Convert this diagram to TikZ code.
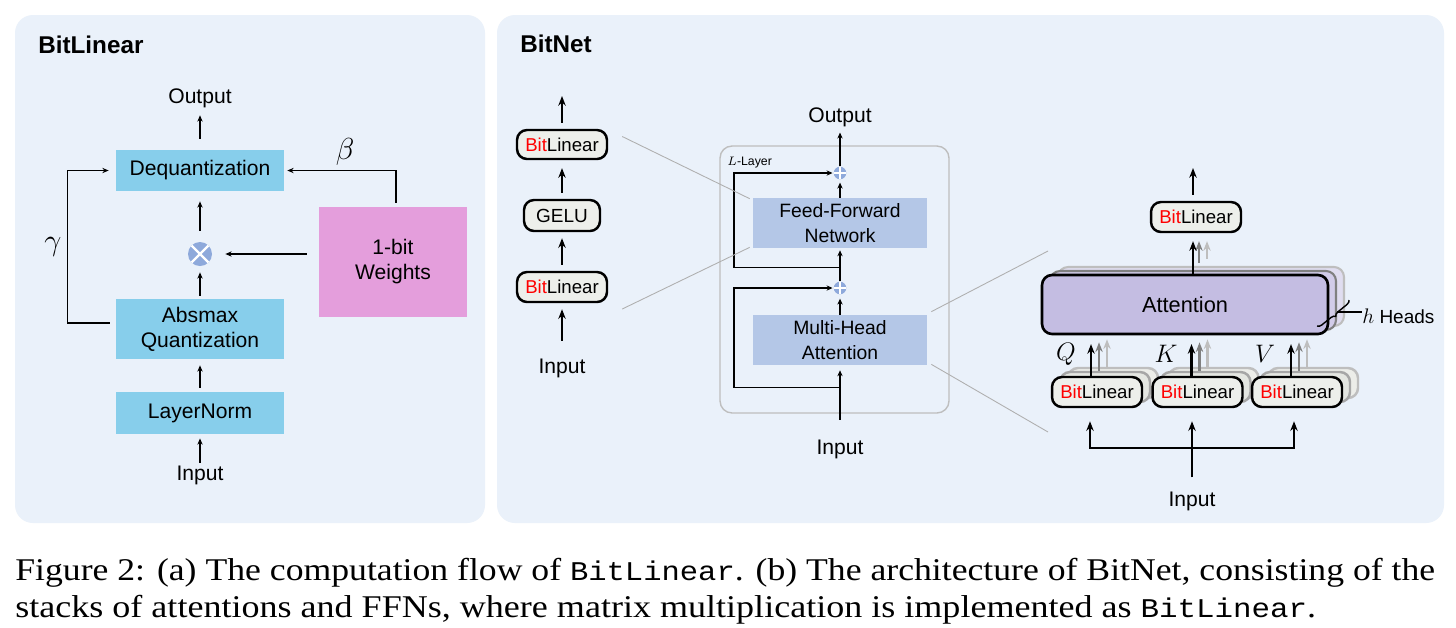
\documentclass[tikz,border=0pt]{standalone}
\usepackage{fontspec}
\setmainfont{Liberation Serif}
\setsansfont{Liberation Sans}
\setmonofont{Liberation Mono}
\usepackage{graphicx}
\usepackage{tikz}
\usetikzlibrary{arrows.meta, calc, shapes, decorations.pathreplacing}

\definecolor{panelbg}{RGB}{234,241,250}
\definecolor{qblue}{RGB}{135,206,235}
\definecolor{wpink}{RGB}{228,158,220}
\definecolor{opblue}{RGB}{142,169,219}
\definecolor{ffblue}{RGB}{180,199,231}
\definecolor{attfill}{RGB}{196,189,226}
\definecolor{attfillA}{RGB}{210,204,233}
\definecolor{attfillB}{RGB}{224,221,240}
\definecolor{bitfill}{RGB}{237,239,235}
\definecolor{bitfillA}{RGB}{228,230,225}
\definecolor{bitfillB}{RGB}{236,237,233}
\definecolor{bitred}{RGB}{255,0,0}
\definecolor{zoomgray}{RGB}{175,175,175}
\definecolor{layergray}{RGB}{190,190,190}
\definecolor{graydark}{RGB}{128,128,128}
\definecolor{graylight}{RGB}{190,190,190}

\newcommand{\bitlin}{\textcolor{bitred}{Bit}Linear}
\newcommand{\capcode}[1]{{\ttfamily\fontsize{15.4}{21}\selectfont #1}}

\tikzstyle{panel} = [fill=panelbg, rounded corners=0.36cm]
\tikzstyle{paneltitle} = [anchor=base west, inner sep=0pt, font=\sffamily\bfseries\fontsize{13.8}{16}\selectfont]
\tikzstyle{lbl} = [inner sep=1pt, font=\sffamily\fontsize{12}{14}\selectfont]
\tikzstyle{mathlbl} = [inner sep=0pt, font=\fontsize{16}{18}\selectfont]
\tikzstyle{caption} = [anchor=base west, inner sep=0pt, font=\rmfamily\fontsize{18}{21}\selectfont]
\tikzstyle{qblock} = [rectangle, fill=qblue, minimum width=3.36cm, align=center, inner sep=0pt, font=\sffamily\fontsize{12}{14.2}\selectfont]
\tikzstyle{wblock} = [rectangle, fill=wpink, minimum width=2.96cm, minimum height=2.2cm, align=center, inner sep=0pt, font=\sffamily\fontsize{12}{14.2}\selectfont]
\tikzstyle{opcircle} = [circle, fill=opblue, inner sep=0pt]
\tikzstyle{mulop} = [opcircle, minimum size=0.48cm, path picture={\draw[white, line width=1.3pt] (path picture bounding box.north west) -- (path picture bounding box.south east) (path picture bounding box.north east) -- (path picture bounding box.south west);}]
\tikzstyle{addop} = [opcircle, minimum size=0.25cm, path picture={\draw[white, line width=0.9pt] (path picture bounding box.north) -- (path picture bounding box.south) (path picture bounding box.east) -- (path picture bounding box.west);}]
\tikzstyle{bitbox} = [rectangle, rounded corners=0.2cm, draw=black, line width=1.4pt, fill=bitfill, minimum width=1.8cm, minimum height=0.6cm, inner sep=0pt, font=\sffamily\fontsize{10.6}{12}\selectfont]
\tikzstyle{bitcopyA} = [bitbox, draw=graydark!70, fill=bitfillA]
\tikzstyle{bitcopyB} = [bitbox, draw=graylight, fill=bitfillB]
\tikzstyle{ffblock} = [rectangle, fill=ffblue, minimum width=3.48cm, minimum height=1cm, align=center, inner sep=0pt, font=\sffamily\fontsize{11}{14.4}\selectfont]
\tikzstyle{layerbox} = [rectangle, rounded corners=0.24cm, draw=layergray, line width=0.8pt, minimum width=4.58cm, minimum height=5.34cm]
\tikzstyle{attblock} = [rectangle, rounded corners=0.2cm, draw=black, line width=1.5pt, fill=attfill, minimum width=5.72cm, minimum height=1.18cm, font=\sffamily\fontsize{12.4}{14}\selectfont]
\tikzstyle{attcopyA} = [attblock, line width=1.2pt, draw=graydark, fill=attfillA]
\tikzstyle{attcopyB} = [attblock, line width=1.2pt, draw=graylight, fill=attfillB]
\tikzstyle{line} = [draw, line width=0.8pt, -{Stealth[length=3.6pt,width=3pt]}]
\tikzstyle{midline} = [draw, line width=0.9pt, -{Stealth[length=3.4pt,width=3pt]}]
\tikzstyle{thickline} = [draw, line width=1.3pt, -{Stealth[length=5.5pt,width=4.2pt]}]
\tikzstyle{zoomline} = [draw=zoomgray, line width=0.5pt]
\tikzstyle{hbrace} = [draw, decorate, decoration={brace, amplitude=2.5pt}, line width=0.8pt]

\begin{document}
\begin{tikzpicture}[x=0.02cm, y=-0.02cm, font=\sffamily]
\useasboundingbox (0,0) rectangle (1456,627);
\fill[white] (0,0) rectangle (1456,627);
\fill[panel] (15,15) rectangle (485,523);
\fill[panel] (497,15) rectangle (1444,523);

% (a) BitLinear
\node (titleA) [paneltitle] at (38,53) {BitLinear};
\node (outA) [lbl, anchor=base] at (200,103) {Output};
\node (deq) [qblock, minimum height=0.82cm] at (200,170.5) {Dequantization};
\node (mul) [mulop] at (200,254) {};
\node (absq) [qblock, minimum height=1.2cm] at (200,329) {Absmax\\Quantization};
\node (lnorm) [qblock, minimum height=0.84cm] at (200,413) {LayerNorm};
\node (inA) [lbl, anchor=base] at (200,480) {Input};
\node (wts) [wblock] at (393,262) {1-bit\\Weights};
\node (lbeta) [mathlbl] at (345,152) {$\beta$};
\node (lgamma) [mathlbl] at (53,247) {$\gamma$};

% Draw edges
\path [line, shorten <=6.2pt, shorten >=3.3pt] (deq) -- (outA);
\path [line, shorten <=6.2pt, shorten >=5.7pt] (mul) -- (deq);
\path [line, shorten <=1.7pt, shorten >=3.4pt] (absq) -- (mul);
\path [line, shorten <=2.3pt, shorten >=3.4pt] (lnorm) -- (absq);
\path [line, shorten <=0.5pt, shorten >=2.3pt] (inA) -- (lnorm);
\path [line, shorten <=6.8pt, shorten >=7.4pt] (wts.west |- mul.east) -- (mul.east);
\path [line, shorten <=2.3pt, shorten >=1.7pt] ([xshift=1.7pt]wts.north) |- (deq.east);
\path [line, shorten <=3.4pt, shorten >=4pt] ([yshift=3.4pt]absq.west) -- ++(-48,0) |- (deq.west);

% (b) BitNet
\node (titleB) [paneltitle] at (520,52) {BitNet};
\coordinate (topA) at (562,96);
\node (blA) [bitbox, minimum height=0.58cm] at (562,144.5) {\bitlin};
\node (gelu) [bitbox, minimum width=1.52cm, minimum height=0.62cm, font=\sffamily\fontsize{10.8}{12}\selectfont] at (562,215.5) {GELU};
\node (blB) [bitbox] at (562,287) {\bitlin};
\node (inB) [lbl, anchor=base] at (562,373) {Input};

\path [thickline, shorten <=3.4pt] (blA) -- (topA);
\path [thickline, shorten <=3.4pt, shorten >=4.5pt] (gelu) -- (blA);
\path [thickline, shorten <=3.4pt, shorten >=3.4pt] (blB) -- (gelu);
\path [thickline, shorten <=9pt, shorten >=3.4pt] (inB) -- (blB);

\node (layer) [layerbox] at (834.5,279.5) {};
\node (llbl) [anchor=base west, inner sep=0pt, font=\sffamily\fontsize{7}{8}\selectfont] at (727,165) {$L$-Layer};
\node (outB) [lbl, anchor=base] at (840,122) {Output};
\node (plus1) [addop] at (840,173) {};
\node (ffn) [ffblock] at (840,223) {Feed-Forward\\Network};
\node (plus2) [addop] at (840,288) {};
\node (mha) [ffblock] at (840,340) {Multi-Head\\Attention};
\node (inC) [lbl, anchor=base] at (840,454) {Input};

\path [midline, shorten >=2.3pt] (plus1) -- (outB);
\path [midline, shorten >=1.7pt] (ffn) -- (plus1);
\path [midline, shorten >=1.1pt] (plus2) -- (ffn);
\path [midline, shorten >=2.3pt] (mha) -- (plus2);
\path [midline, shorten <=10pt, shorten >=2.8pt] (inC) -- (mha);
\path [midline, shorten >=0.5pt] ($(ffn.south)+(0,19)$) -- ++(-106,0) |- (plus1.west);
\path [midline, shorten >=0.5pt] ($(mha.south)+(0,22)$) -- ++(-106,0) |- (plus2.west);

\coordinate (zA) at (1048,251);
\coordinate (zB) at (1048,432);
\path [zoomline] ([shift={(14,-8)}]blA.east) -- ([shift={(-3,1)}]ffn.north west);
\path [zoomline] ([shift={(14,22)}]blB.east) -- ([shift={(-3,-1)}]ffn.south west);
\path [zoomline] ([shift={(4,-3)}]mha.north east) -- (zA);
\path [zoomline] ([shift={(4,-1)}]mha.south east) -- (zB);

% attention heads
\coordinate (topR) at (1193,168);
\node (blO) [bitbox] at (1196,217) {\bitlin};
\node (att2) [attcopyB] at (1201,296.5) {};
\node (att1) [attcopyA] at (1193,300.5) {};
\node (att) [attblock] at (1185,304.5) {Attention};
\foreach \n/\xx/\lab/\lx in {blQ/1097/Q/1066, blK/1197.5/K/1166, blV/1297/V/1265} {
  \node (\n2) [bitcopyB] at (\xx+16,383) {};
  \node (\n1) [bitcopyA] at (\xx+8,387) {};
  \node (\n) [bitbox] at (\xx,392) {\bitlin};
  \node (\n lbl) [inner sep=0pt, font=\fontsize{14}{16}\selectfont] at (\lx,354) {$\lab$};
}

\path [thickline, draw=graylight, shorten <=4pt, shorten >=4.5pt] ($(att2.north)+(6,0)$) -- ($(att2.north |- blO.south)+(6,0)$);
\path [thickline, draw=graydark, shorten <=4pt, shorten >=4.5pt] ($(att1.north)+(6,0)$) -- ($(att1.north |- blO.south)+(6,0)$);
\path [thickline, shorten >=4.5pt] (att.north -| topR) -- (blO.south -| topR);
\path [thickline, shorten <=3.4pt] (blO.north -| topR) -- (topR);
\foreach \n in {blQ, blK, blV} {
  \path [thickline, draw=graylight, shorten >=2.3pt] ($(\n2.north)+(-6,0)$) -- ($(\n2.north |- att.south)+(-6,0)$);
  \path [thickline, draw=graydark, shorten >=4pt] ($(\n1.north)+(-6,0)$) -- ($(\n1.north |- att.south)+(-6,0)$);
  \path [thickline, shorten >=5pt] ($(\n.north)+(-6,0)$) -- ($(\n.north |- att.south)+(-6,0)$);
}

\coordinate (hb1) at (1349,300);
\coordinate (hb2) at (1317,326);
\coordinate (hbt) at (1337,312);
\path [hbrace] (hb1) -- (hb2);
\node (heads) [anchor=base west, inner sep=0pt, font=\sffamily\fontsize{10.8}{13}\selectfont] at (1362,323) {{\fontsize{12.5}{14}\selectfont$h$} Heads};
\draw [line width=0.8pt] (hbt) -- (hbt -| heads.west);

\node (inD) [lbl, anchor=base] at (1192,506) {Input};
\coordinate (split) at (1192,448);
\path [thickline, line width=1.1pt, shorten <=6.8pt, shorten >=7.4pt] (inD) -- (inD |- blK.south);
\path [thickline, line width=1.1pt, shorten >=7.4pt] (split) -| ($(blQ.south)+(-7,0)$);
\path [thickline, line width=1.1pt, shorten >=7.4pt] (split) -| ($(blV.south)+(-3,0)$);

% caption
\node (cap1) [caption] at (15,580) {\resizebox{28.4cm}{\height}{Figure 2: (a) The computation flow of \capcode{BitLinear}. (b) The architecture of BitNet, consisting of the}};
\node (cap2) [caption] at (15,617) {\resizebox{26.02cm}{\height}{stacks of attentions and FFNs, where matrix multiplication is implemented as \capcode{BitLinear}.}};
\end{tikzpicture}
\end{document}
